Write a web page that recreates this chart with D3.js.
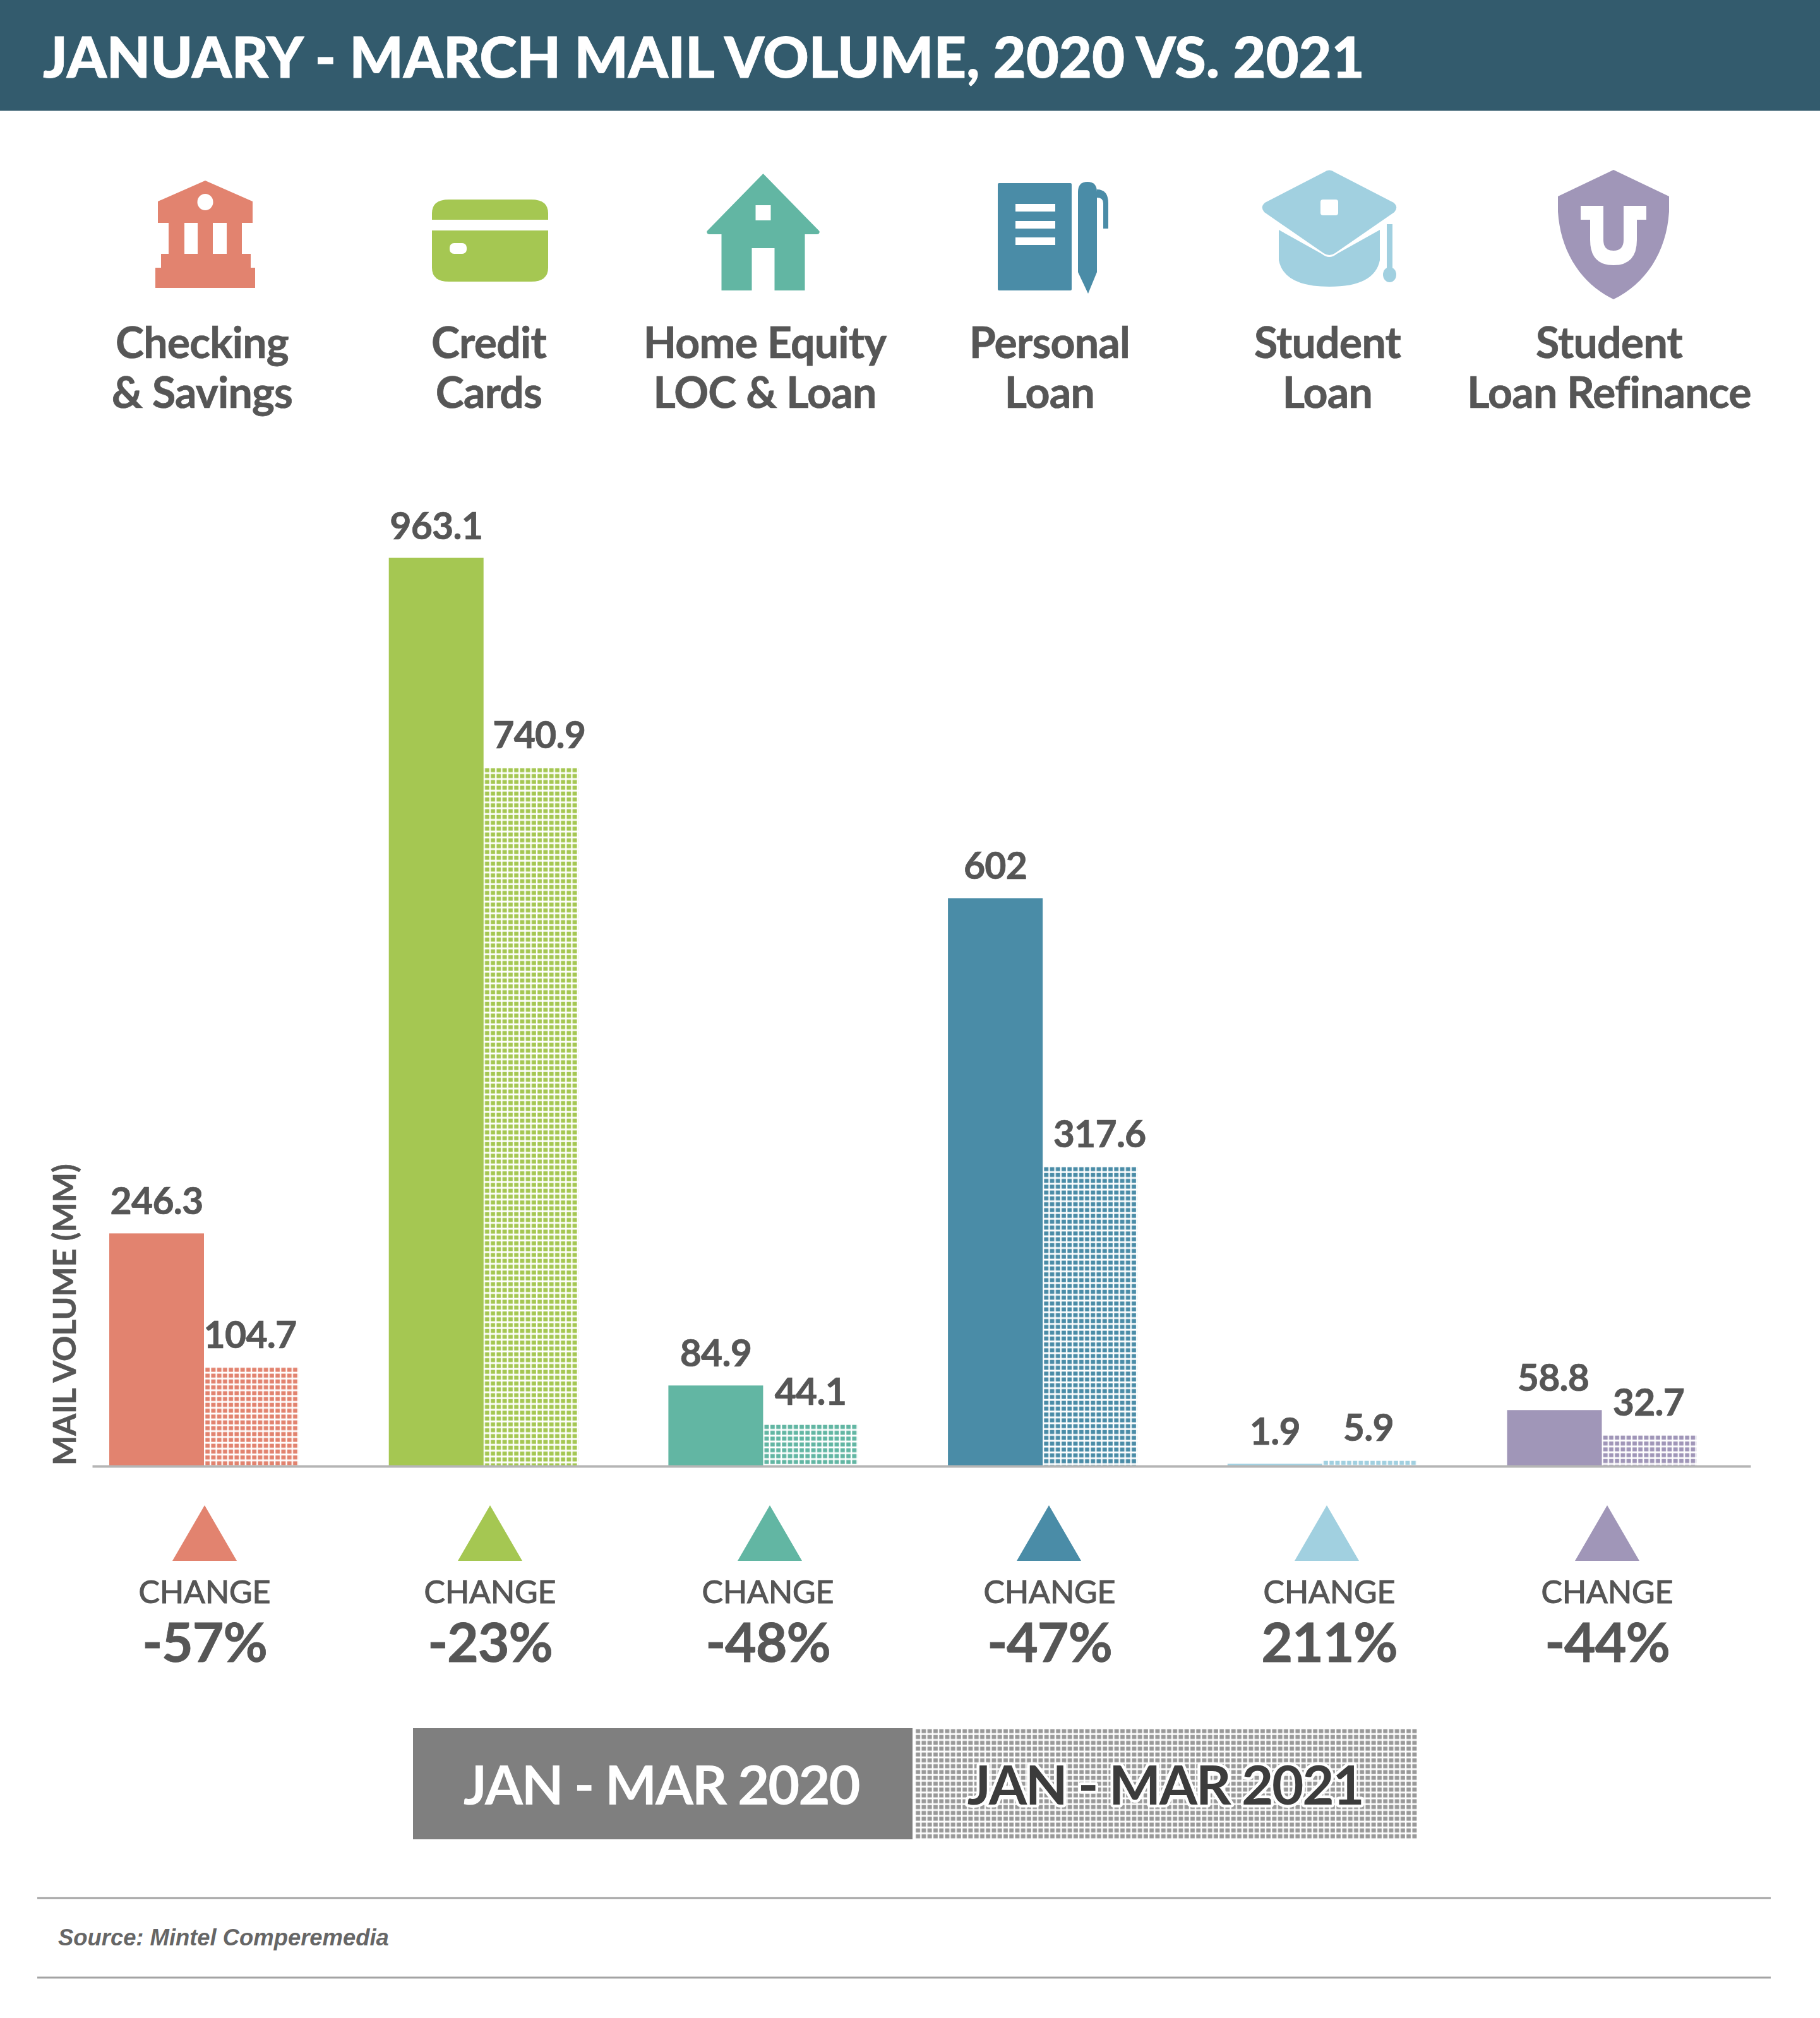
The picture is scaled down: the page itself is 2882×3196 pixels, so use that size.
<!DOCTYPE html>
<html><head><meta charset="utf-8">
<script src="https://cdn.jsdelivr.net/npm/d3@7"></script>
<style>html,body{margin:0;padding:0;background:#fff}svg{display:block}text{font-family:Lato,sans-serif}</style>
</head><body><svg id="c" width="2882" height="3196"></svg>
<script>
// ---- data ----
const titleText = "JANUARY - MARCH MAIL VOLUME, 2020 VS. 2021";
const categories = ["Checking & Savings","Credit Cards","Home Equity LOC & Loan","Personal Loan","Student Loan","Student Loan Refinance"];
const labelLine1 = ["Checking","Credit","Home Equity","Personal","Student","Student"];
const labelLine2 = ["& Savings","Cards","LOC & Loan","Loan","Loan","Loan Refinance"];
const values2020 = [246.3,963.1,84.9,602,1.9,58.8];
const values2021 = [104.7,740.9,44.1,317.6,5.9,32.7];
const label2020 = ["246.3","963.1","84.9","602","1.9","58.8"];
const label2021 = ["104.7","740.9","44.1","317.6","5.9","32.7"];
const changes = ["-57%","-23%","-48%","-47%","211%","-44%"];
const colors = ["#E2836F","#A5C752","#62B6A3","#4A8CA7","#A1D0E0","#A096B8"];
const periods = ["JAN - MAR 2020","JAN - MAR 2021"];

// ---- layout ----
const svg = d3.select("#c");
const baseY = 2321, TOP = 883.5;
const y = d3.scaleLinear().domain([0,963.1]).range([baseY,TOP]);
const x = d3.scaleBand().domain(categories).range([173,173+442.7*6]).paddingInner(0).paddingOuter(0);
const barW = 150;
const iconX = [325,776,1208.5,0,2105,2555];
const labelX = [320,774,1211,1662,2102,2548];
const triX = [324,776,1219,1661,2101,2545];
const changeX = [324,776,1216,1662,2105,2545];
const nudge20 = [0,0,0,0,0,-2];
const nudge21 = [-2,13,0,15,-2,-1];
const ink = "#565656";

const defs = svg.append("defs");
function hatch(id,color,ox,oy){
  const P=9.25;
  const p = defs.append("pattern").attr("id",id).attr("patternUnits","userSpaceOnUse")
    .attr("width",P).attr("height",P).attr("patternTransform",`translate(${ox},${oy})`);
  p.append("rect").attr("x",2.2).attr("y",1.5).attr("width",6.9).attr("height",6.4).attr("fill",color);
}

// header
svg.append("rect").attr("width",2882).attr("height",175.5).attr("fill","#335B6D");
svg.append("text").attr("x",68).attr("y",123).attr("font-size",90).attr("font-weight",900).attr("fill","#fff")
  .attr("letter-spacing",-0.1).attr("stroke","#fff").attr("stroke-width",0.8).text(titleText);

// icons
const icons = svg.append("g");
function ic(i){return icons.append("g").attr("transform",`translate(${iconX[i]},0)`).attr("fill",colors[i]);}
let g = ic(0);
g.append("path").attr("d","M0 286 L75 319 L75 353 L58 353 L58 402 L72 402 L72 424 L79 424 L79 456 L-79 456 L-79 424 L-70 424 L-70 402 L-58 402 L-58 353 L-75 353 L-75 319 Z");
g.append("ellipse").attr("cx",0).attr("cy",320).attr("rx",12.5).attr("ry",13).attr("fill","#fff");
g.append("rect").attr("x",-33).attr("y",353).attr("width",21).attr("height",49).attr("fill","#fff");
g.append("rect").attr("x",12).attr("y",353).attr("width",22).attr("height",49).attr("fill","#fff");
g = ic(1);
g.append("path").attr("d","M-92 348 L-92 338 Q-92 316 -65 316 L65 316 Q92 316 92 338 L92 348 Z");
g.append("path").attr("d","M-92 365 L92 365 L92 424 Q92 446 65 446 L-65 446 Q-92 446 -92 424 Z");
g.append("rect").attr("x",-64).attr("y",385).attr("width",27).attr("height",17).attr("rx",7).attr("fill","#fff");
g = ic(2);
g.append("path").attr("d","M0 275 L89 366 Q90 371 85 371 L66 371 L66 460 L18 460 L18 393 L-18 393 L-18 460 L-66 460 L-66 371 L-85 371 Q-90 371 -89 366 Z");
g.append("rect").attr("x",-12).attr("y",325).attr("width",24).attr("height",24).attr("fill","#fff");
// notebook and pen
g = icons.append("g").attr("fill",colors[3]);
g.append("rect").attr("x",1580).attr("y",290).attr("width",117).attr("height",170).attr("rx",2);
[323,350,376].forEach(v=>g.append("rect").attr("x",1608).attr("y",v).attr("width",63).attr("height",12).attr("fill","#fff"));
g.append("path").attr("d","M1707 304 Q1707 288 1722 288 Q1737 288 1737 304 L1737 431 L1723 465 L1707 431 Z");
g.append("path").attr("d","M1737 300 Q1755 300 1755 322 L1755 362 L1747 362 L1747 322 Q1747 313 1737 313 Z");
// cap
g = ic(4);
g.append("path").attr("d","M-9 273 Q0 266 9 273 L102 321 Q110 328 103 336 L9 401 Q0 407 -9 401 L-103 336 Q-110 328 -102 321 Z");
g.append("rect").attr("x",-14).attr("y",316).attr("width",28).attr("height",25).attr("rx",4).attr("fill","#fff");
g.append("path").attr("d","M-80 364 L-12 402 Q0 412 12 402 L80 364 L80 412 Q72 454 0 454 Q-72 454 -80 412 Z");
g.append("rect").attr("x",91).attr("y",355).attr("width",9).attr("height",72);
g.append("ellipse").attr("cx",95.5).attr("cy",435).attr("rx",10.5).attr("ry",12);
// shield
g = ic(5);
g.append("path").attr("d","M0 269 L88 311 L88 335 C84 400 50 450 0 474 C-50 450 -84 400 -88 335 L-88 311 Z");
g.append("path").attr("fill","#fff").attr("d","M-52 326 L-16 326 L-16 348 L-16 380 Q-16 397 0 397 Q16 397 16 380 L16 348 L16 326 L52 326 L52 348 L37 348 L37 380 Q37 420 0 420 Q-37 420 -37 380 L-37 348 L-52 348 Z");

// category labels
[[labelLine1,567],[labelLine2,646]].forEach(([arr,by])=>{
  svg.append("g").selectAll("text").data(arr).join("text")
    .attr("x",(d,i)=>labelX[i]).attr("y",by).attr("text-anchor","middle")
    .attr("font-size",68).attr("font-weight",700).attr("letter-spacing",-0.8).attr("fill",ink)
    .attr("stroke",ink).attr("stroke-width",0.7).text(d=>d);
});

// bars
svg.append("g").selectAll("rect").data(values2020).join("rect")
  .attr("x",(d,i)=>x(categories[i])).attr("y",d=>y(d)).attr("width",barW).attr("height",d=>baseY-y(d))
  .attr("fill",(d,i)=>colors[i]);
values2021.forEach((d,i)=>hatch("h"+i,colors[i],x(categories[i])+barW,y(d)));
svg.append("g").selectAll("rect").data(values2021).join("rect")
  .attr("x",(d,i)=>x(categories[i])+barW).attr("y",d=>y(d)).attr("width",barW).attr("height",d=>baseY-y(d))
  .attr("fill",(d,i)=>`url(#h${i})`);

// value labels
const vlab = svg.append("g").attr("font-size",59).attr("font-weight",700).attr("letter-spacing",-0.8).attr("fill",ink)
  .attr("stroke",ink).attr("stroke-width",0.7).attr("text-anchor","middle");
vlab.selectAll("text.a").data(values2020).join("text").attr("class","a")
  .attr("x",(d,i)=>x(categories[i])+barW/2+nudge20[i]).attr("y",d=>y(d)-30).text((d,i)=>label2020[i]);
vlab.selectAll("text.b").data(values2021).join("text").attr("class","b")
  .attr("x",(d,i)=>x(categories[i])+barW*1.5+nudge21[i]).attr("y",d=>y(d)-30).text((d,i)=>label2021[i]);

// axis baseline
const axis = d3.axisBottom(d3.scaleLinear().domain([0,1]).range([146,2772])).tickValues([]).tickSize(0);
svg.append("g").attr("transform",`translate(0,${baseY+1})`).call(axis)
  .select(".domain").attr("stroke","#b5b5b5").attr("stroke-width",4);

// y title
svg.append("text").attr("transform","translate(120,2321) rotate(-90)")
  .attr("font-size",50).attr("font-weight",700).attr("fill",ink).attr("stroke",ink).attr("stroke-width",0.6).text("MAIL VOLUME (MM)");

// change triangles + labels
svg.append("g").selectAll("path").data(changes).join("path")
  .attr("d","M0 2384 L51 2472 L-51 2472 Z").attr("transform",(d,i)=>`translate(${triX[i]},0)`)
  .attr("fill",(d,i)=>colors[i]);
svg.append("g").selectAll("text").data(changes).join("text")
  .attr("x",(d,i)=>changeX[i]).attr("y",2539).attr("text-anchor","middle")
  .attr("font-size",50).attr("font-weight",400).attr("fill",ink).attr("stroke",ink).attr("stroke-width",1.2).text("CHANGE");
svg.append("g").selectAll("text").data(changes).join("text")
  .attr("x",(d,i)=>changeX[i]).attr("y",2632).attr("text-anchor","middle")
  .attr("font-size",86).attr("font-weight",700).attr("letter-spacing",-1.2).attr("fill",ink)
  .attr("stroke",ink).attr("stroke-width",0.8).text(d=>d);

// legend
hatch("lg","#999",1448,2737);
svg.append("rect").attr("x",654).attr("y",2737).attr("width",791).attr("height",176).attr("fill","#7f7f7f");
svg.append("rect").attr("x",1448).attr("y",2737).attr("width",796).attr("height",176).attr("fill","url(#lg)");
svg.append("text").attr("x",1047).attr("y",2858).attr("text-anchor","middle").attr("font-size",87).attr("font-weight",700).attr("letter-spacing",-2.4).attr("fill","#fff").text(periods[0]);
svg.append("text").attr("x",1845).attr("y",2858).attr("text-anchor","middle").attr("font-size",87).attr("font-weight",700).attr("letter-spacing",-2.4).attr("fill","#3c3c3c")
  .attr("stroke","#fff").attr("stroke-width",9).attr("stroke-linejoin","round").attr("paint-order","stroke").text(periods[1]);

// footer
[3006,3132].forEach(v=>svg.append("line").attr("x1",59).attr("x2",2804).attr("y1",v).attr("y2",v).attr("stroke","#a3a3a3").attr("stroke-width",3));
svg.append("text").attr("x",92).attr("y",3081).attr("font-size",36.4).attr("font-weight",700).attr("font-style","italic")
  .attr("fill","#666").style("font-family","'Liberation Sans',Arial,sans-serif").text("Source: Mintel Comperemedia");
</script></body></html>
